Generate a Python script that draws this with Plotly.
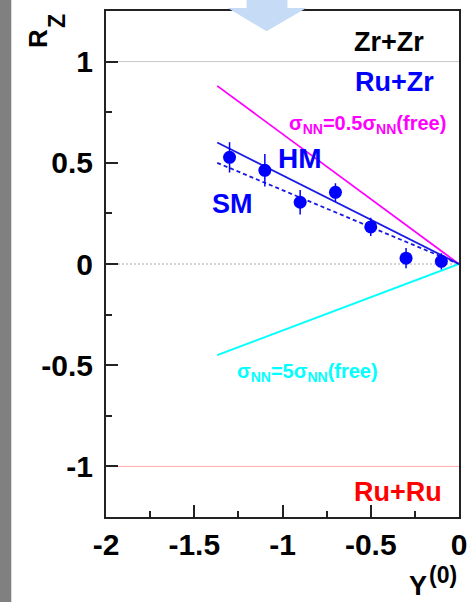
import plotly.graph_objects as go

# ---------------- data ----------------
y0_vals = [-1.3, -1.1, -0.9, -0.7, -0.5, -0.3, -0.1]
rz_vals = [0.527, 0.463, 0.305, 0.354, 0.183, 0.029, 0.013]
rz_errs = [0.075, 0.08, 0.06, 0.045, 0.045, 0.05, 0.04]

model_x = [-1.37, 0.0]
hm_y = [0.60, 0.0]
sm_y = [0.50, 0.0]
half_sigma_y = [0.88, 0.0]
five_sigma_y = [-0.45, 0.0]

ref_levels = [1, 0, -1]

x_tickvals = [-2, -1.5, -1, -0.5, 0]
x_ticktext = ["-2", "-1.5", "-1", "-0.5", "0"]
x_minor = [-1.75, -1.25, -0.75, -0.25]
y_tickvals = [-1, -0.5, 0, 0.5, 1]
y_ticktext = ["-1", "-0.5", "0", "0.5", "1"]
y_minor = [-0.75, -0.25, 0.25, 0.75]

# ---------------- layout geometry ----------------
W, H = 476, 602
ML, MR, MT, MB = 106, 16, 9, 85
PW, PH = W - ML - MR, H - MT - MB


def px(xp):
    return (xp - ML) / PW


def py(yp):
    return (H - MB - yp) / PH


FONT = "Liberation Sans, Arial, sans-serif"
AX = "#222222"

fig = go.Figure()

fig.add_trace(go.Scatter(x=model_x, y=half_sigma_y, mode="lines",
                         line=dict(color="#ff00ff", width=1.8), hoverinfo="skip"))
fig.add_trace(go.Scatter(x=model_x, y=five_sigma_y, mode="lines",
                         line=dict(color="#00ffff", width=2), hoverinfo="skip"))
fig.add_trace(go.Scatter(x=model_x, y=hm_y, mode="lines",
                         line=dict(color="#1a1ae6", width=1.8), hoverinfo="skip"))
fig.add_trace(go.Scatter(x=model_x, y=sm_y, mode="lines",
                         line=dict(color="#1a1ae6", width=1.8, dash="4px,3px"),
                         hoverinfo="skip"))
fig.add_trace(go.Scatter(x=y0_vals, y=rz_vals, mode="markers",
                         marker=dict(color="#0000ff", size=13),
                         error_y=dict(type="data", array=rz_errs, color="#0000ff",
                                      thickness=1.5, width=0)))

shapes = []
ref_styles = [dict(color="#c8c8c8", width=1),
              dict(color="#aaaaaa", width=1, dash="2px,2px"),
              dict(color="#ffaaaa", width=1)]
for lv, st in zip(ref_levels, ref_styles):
    shapes.append(dict(type="line", xref="paper", yref="y", x0=0, x1=1,
                       y0=lv, y1=lv, line=st, layer="below"))

# grey side bar
shapes.append(dict(type="rect", xref="paper", yref="paper",
                   x0=px(-2), x1=px(11), y0=py(H + 2), y1=py(-2),
                   fillcolor="#808080", line=dict(width=0), layer="above"))
# light-blue arrow at the top
arrow = [(247, -2), (288, -2), (288, 6), (307, 6), (267, 29.3), (228, 6), (247, 6)]
path = "M " + " L ".join(f"{px(a):.5f},{py(b):.5f}" for a, b in arrow) + " Z"
shapes.append(dict(type="path", xref="paper", yref="paper", path=path,
                   fillcolor="#c6dcf6", line=dict(width=0), layer="above"))


def ann(text, x, y, color, size, xref="x", yref="y", angle=0):
    return dict(text=text, x=x, y=y, xref=xref, yref=yref, showarrow=False,
                xanchor="center", yanchor="middle", textangle=angle,
                font=dict(family=FONT, size=size, color=color, weight="bold"))


annotations = [
    ann("Zr+Zr", -0.395, 1.095, "#000000", 27),
    ann("Ru+Zr", -0.364, 0.9, "#0000ff", 27),
    ann("σ<sub>NN</sub>=0.5σ<sub>NN</sub>(free)", -0.52, 0.69, "#ff00ff", 20),
    ann("HM", -0.90, 0.523, "#0000ff", 28),
    ann("SM", -1.282, 0.297, "#0000ff", 27),
    ann("σ<sub>NN</sub>=5σ<sub>NN</sub>(free)", -0.856, -0.535, "#00ffff", 20),
    ann("Ru+Ru", -0.345, -1.125, "#ff0000", 27),
    # axis titles
    ann("R", px(38), py(37), "#000000", 26, "paper", "paper", -90),
    ann("Z", px(57), py(19), "#000000", 23, "paper", "paper", -90),
    ann("Y", px(419), py(586), "#000000", 27, "paper", "paper"),
    ann("(0)", px(444), py(575), "#000000", 23, "paper", "paper"),
]

axis_common = dict(showline=True, mirror=True, linewidth=2, linecolor=AX,
                   showgrid=False, zeroline=False, ticks="inside", ticklen=12,
                   tickwidth=1.5, tickcolor=AX, tickmode="array",
                   tickfont=dict(family=FONT, size=30, color="#000000", weight="bold"))

fig.update_layout(
    width=W, height=H, autosize=False,
    margin=dict(l=ML, r=MR, t=MT, b=MB, pad=0),
    paper_bgcolor="white", plot_bgcolor="white",
    showlegend=False,
    xaxis=dict(range=[-2, 0], tickvals=x_tickvals, ticktext=x_ticktext,
               ticklabelstandoff=0,
               minor=dict(tickvals=x_minor, ticks="inside", ticklen=6,
                          tickwidth=1.5, tickcolor=AX),
               **axis_common),
    yaxis=dict(range=[-1.25, 1.25], tickvals=y_tickvals, ticktext=y_ticktext,
               ticklabelstandoff=5,
               minor=dict(tickvals=y_minor, ticks="inside", ticklen=6,
                          tickwidth=1.5, tickcolor=AX),
               **axis_common),
    shapes=shapes,
    annotations=annotations,
)

fig.write_html("out.html", config={"displayModeBar": False},
               post_script="document.body.style.margin='0';document.body.style.overflow='hidden';")
